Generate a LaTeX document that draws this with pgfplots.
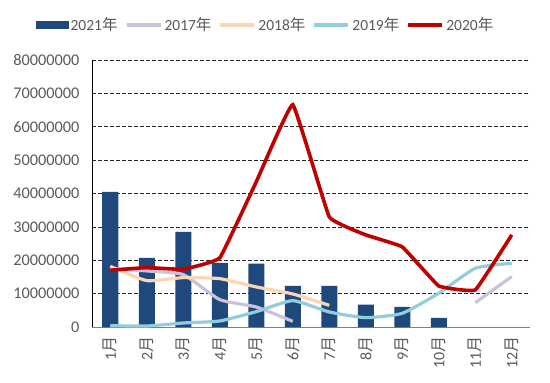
\documentclass[border=0pt]{standalone}
\usepackage{pgfplots}
\pgfplotsset{compat=1.18}
\usepackage{fontspec}
\setmainfont{Carlito}
\newfontfamily\cjk{Noto Sans CJK SC}
\definecolor{barblue}{HTML}{1F497D}
\definecolor{lav}{HTML}{CCC1DA}
\definecolor{peach}{HTML}{FCD5B5}
\definecolor{lblue}{HTML}{92CDDC}
\definecolor{dred}{HTML}{C00000}
\definecolor{textgray}{HTML}{595959}
\begin{document}
\begin{tikzpicture}
\begin{axis}[name=ax, scale only axis, width=438pt, height=267pt,
 xmin=-0.5, xmax=11.5, ymin=0, ymax=80000000,
 axis x line*=bottom, axis y line*=left,
 x axis line style={-, draw=gray, line width=0.8pt},
 y axis line style={-, draw=black, line width=0.8pt},
 xtick={0,1,2,3,4,5,6,7,8,9,10,11},
 xticklabels={1{\cjk 月},2{\cjk 月},3{\cjk 月},4{\cjk 月},5{\cjk 月},6{\cjk 月},7{\cjk 月},8{\cjk 月},9{\cjk 月},10{\cjk 月},11{\cjk 月},12{\cjk 月}},
 xticklabel shift=6pt,
 xticklabel style={rotate=90, anchor=east, font=\fontsize{16}{19}\selectfont, text=textgray},
 ytick={0,10000000,20000000,30000000,40000000,50000000,60000000,70000000,80000000},
 scaled y ticks=false,
 yticklabel style={/pgf/number format/.cd, fixed, precision=0, 1000 sep={}, assume math mode=true, /tikz/.cd, font=\fontsize{16.3}{19}\selectfont, text=textgray, xshift=-9pt},
 major tick length=0pt,
 ymajorgrids, major grid style={dash pattern=on 4pt off 2pt, black!85, line width=0.7pt},
 legend columns=5,
 legend style={draw=none, fill=none, at={(0.396,1)}, anchor=center, yshift=35pt,
   font=\fontsize{15.5}{18}\selectfont, text=textgray, inner xsep=0pt,
   nodes={inner xsep=2pt},
   /tikz/every even column/.append style={column sep=5pt}},
 legend image code/.code={\draw[#1, line width=4pt] (0pt,0pt) -- (34pt,0pt);},
]
\addplot[ybar, bar width=16pt, fill=barblue, draw=none,
  legend image code/.code={\fill[barblue] (0pt,-4pt) rectangle (33pt,4pt);}]
  coordinates {(0,40500000) (1,20700000) (2,28500000) (3,19200000) (4,19000000) (5,12300000) (6,12300000) (7,6700000) (8,6000000) (9,2700000)};
\addlegendentry{2021{\cjk 年}}
\addplot[lav, line width=3.2pt, smooth, tension=0.3]
  coordinates {(0,17500000) (1,16800000) (2,15700000) (3,8200000) (4,6000000) (5,1700000)};
\addlegendentry{2017{\cjk 年}}
\addplot[peach, line width=3.2pt, smooth, tension=0.3]
  coordinates {(0,18200000) (1,13900000) (2,14800000) (3,14500000) (4,12000000) (5,9900000) (6,6500000)};
\addlegendentry{2018{\cjk 年}}
\addplot[lblue, line width=3.2pt, smooth, tension=0.3]
  coordinates {(0,400000) (1,300000) (2,1200000) (3,1800000) (4,4600000) (5,7900000) (6,4500000) (7,2800000) (8,4100000) (9,10100000) (10,17600000) (11,19100000)};
\addlegendentry{2019{\cjk 年}}
\addplot[lav, line width=3.2pt, forget plot]
  coordinates {(10,7300000) (11,15100000)};
\addplot[dred, line width=3.6pt, smooth, tension=0.15]
  coordinates {(0,17000000) (1,17800000) (2,17300000) (3,20700000) (4,43500000) (5,66600000) (6,33000000) (7,27600000) (8,24000000) (9,12300000) (10,11100000) (11,27600000)};
\addlegendentry{2020{\cjk 年}}
\end{axis}
\pgfresetboundingbox
\path[use as bounding box] ([shift={(-92pt,-55pt)}]ax.south west) rectangle ([shift={(20pt,60pt)}]ax.north east);
\end{tikzpicture}
\end{document}
